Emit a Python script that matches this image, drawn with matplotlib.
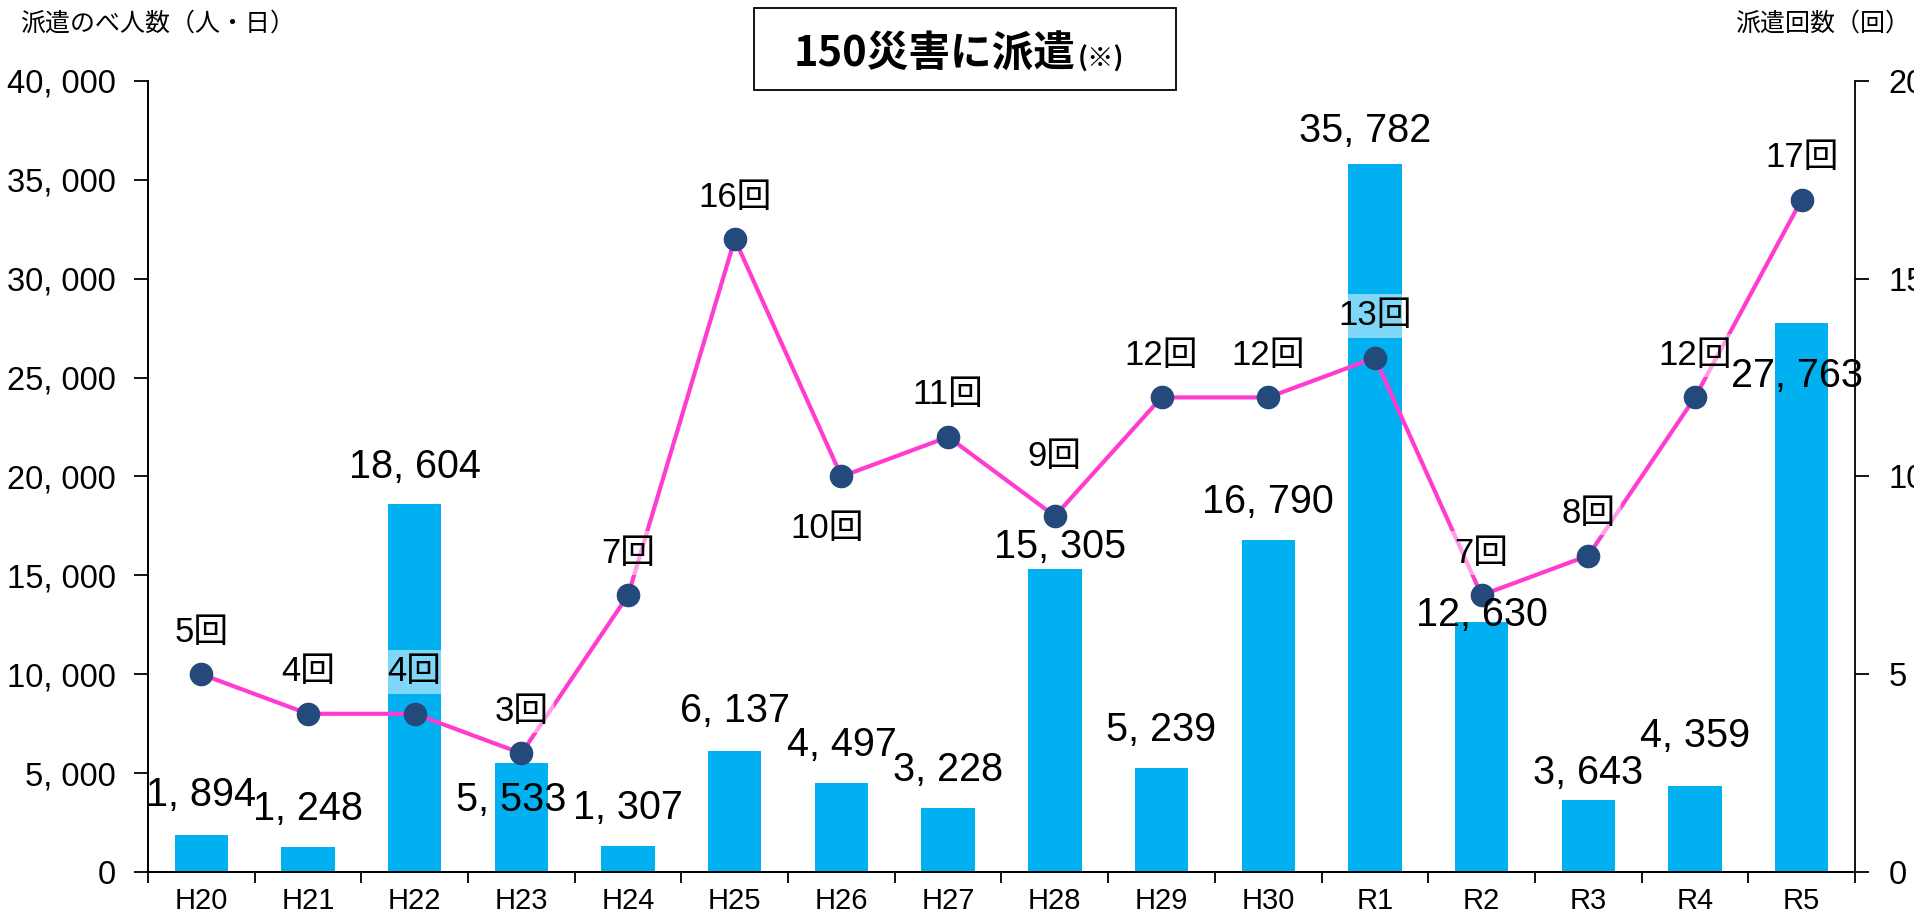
import matplotlib
matplotlib.use('Agg')
import matplotlib.pyplot as plt
from matplotlib import font_manager
from matplotlib.patches import Rectangle
import numpy as np

# ---- data ----
years = ['H20', 'H21', 'H22', 'H23', 'H24', 'H25', 'H26', 'H27',
         'H28', 'H29', 'H30', 'R1', 'R2', 'R3', 'R4', 'R5']
person_days = [1894, 1248, 18604, 5533, 1307, 6137, 4497, 3228,
               15305, 5239, 16790, 35782, 12630, 3643, 4359, 27763]
dispatch_counts = [5, 4, 4, 3, 7, 16, 10, 11, 9, 12, 12, 13, 7, 8, 12, 17]
left_ticks = [0, 5000, 10000, 15000, 20000, 25000, 30000, 35000, 40000]
right_ticks = [0, 5, 10, 15, 20]

title_main = '150災害に派遣'
title_note = '(※)'
left_label = '派遣のべ人数（人・日）'
right_label = '派遣回数（回）'

# ---- label placement (pixels, style only) ----
val_dy = [40, 38, 37, -37, 38, 40, 38, 38, 22, 38, 38, 33, 7, 27, 50, -53]
val_dx = [0, 0, 0, -10, 0, 0, 0, 0, 5, 0, 0, -10, 0, 0, 0, -5]
cnt_dy = [42, 42, 42, 42, 42, 42, -52, 42, 60, 42, 42, 42, 42, 42, 42, 42]
cnt_dx = [0, 0, 0, 0, 0, 0, -14, 0, 0, 0, 0, 0, 0, 0, 0, 0]

names = {f.name for f in font_manager.fontManager.ttflist}
narrow = 'Liberation Sans Narrow' if 'Liberation Sans Narrow' in names else 'Liberation Sans'
is_narrow = narrow.endswith('Narrow')
fam = [narrow, 'Noto Sans CJK JP', 'DejaVu Sans']
jp = ['Noto Sans CJK JP', 'DejaVu Sans']
plt.rcParams['font.family'] = fam

fs_tick = 26 if is_narrow else 23.5
fs_x = 25 if is_narrow else 21
fs_val = 32 if is_narrow else 28.5
fs_cnt = 28 if is_narrow else 25

W, H = 1915, 921
fig = plt.figure(figsize=(W / 100, H / 100), dpi=100)
L, R, T, B = 148, 1855, 81, 872
ax = fig.add_axes([L / W, 1 - B / H, (R - L) / W, (B - T) / H])
ax2 = ax.twinx()

x = np.arange(len(years))
ax.bar(x, person_days, width=0.5, color='#00B0F0', zorder=2)
ax.set_xlim(-0.5, len(years) - 0.5)
ax.set_ylim(0, 40000)
ax.set_yticks(left_ticks)
ax.set_yticklabels([f'{v:,}'.replace(',', ', ') for v in left_ticks], fontsize=fs_tick)
ax.set_xticks(x)
ax.set_xticklabels(years, fontsize=fs_x)
ax.set_xticks(np.arange(len(years) + 1) - 0.5, minor=True)
ax.tick_params(axis='x', which='major', length=0, pad=11)
ax.tick_params(axis='x', which='minor', length=8, width=1.3, direction='out')
ax.tick_params(axis='y', length=10, width=1.3, direction='out', pad=13)

ax2.set_ylim(0, 20)
ax2.set_yticks(right_ticks)
ax2.set_yticklabels([str(v) for v in right_ticks], fontsize=fs_tick)
ax2.tick_params(axis='y', length=10, width=1.3, direction='out', pad=14)

for a in (ax, ax2):
    a.spines['top'].set_visible(False)
    for s in ('left', 'right', 'bottom'):
        a.spines[s].set_linewidth(1.3)
ax.spines['right'].set_visible(False)

ax2.plot(x, dispatch_counts, color='#FF3CCF', lw=3, marker='o', ms=16,
         mfc='#234A7B', mec='#234A7B', zorder=3)

px = 0.72  # pixels -> points at dpi 100
for i, v in enumerate(person_days):
    ax2.annotate(f'{v:,}'.replace(',', ', '), xy=(x[i], v), xycoords=ax.transData,
                 xytext=(val_dx[i] * px, val_dy[i] * px), textcoords='offset points',
                 ha='center', va='center', fontsize=fs_val, zorder=6)

for i, n in enumerate(dispatch_counts):
    ax2.annotate(f'{n}回', xy=(x[i], n), xycoords='data',
                 xytext=(cnt_dx[i] * px, cnt_dy[i] * px), textcoords='offset points',
                 ha='center', va='center', fontsize=fs_cnt, zorder=5,
                 bbox=dict(boxstyle='square,pad=0.15', fc='white', ec='none', alpha=0.5))

# axis titles
fig.text(20 / W, 1 - 24 / H, left_label, fontsize=18, family=jp, ha='left', va='center')
fig.text(1910 / W, 1 - 24 / H, right_label, fontsize=18, family=jp, ha='right', va='center')

# title box
fig.patches.append(Rectangle((754 / W, 1 - 90 / H), (1176 - 754) / W, 82 / H,
                             transform=fig.transFigure, fill=False, ec='black', lw=1.3))
t1 = fig.text(0, 1 - 67 / H, title_main, fontsize=30, family=jp, weight='bold',
              ha='left', va='baseline')
t2 = fig.text(0, 1 - 67 / H, title_note, fontsize=19, family=jp, weight='bold',
              ha='left', va='baseline')
fig.canvas.draw()
r = fig.canvas.get_renderer()
w1 = t1.get_window_extent(r).width
w2 = t2.get_window_extent(r).width
start = 958 - (w1 + w2) / 2
t1.set_x(start / W)
t2.set_x((start + w1 + 2) / W)

fig.savefig('out.png', dpi=100)
